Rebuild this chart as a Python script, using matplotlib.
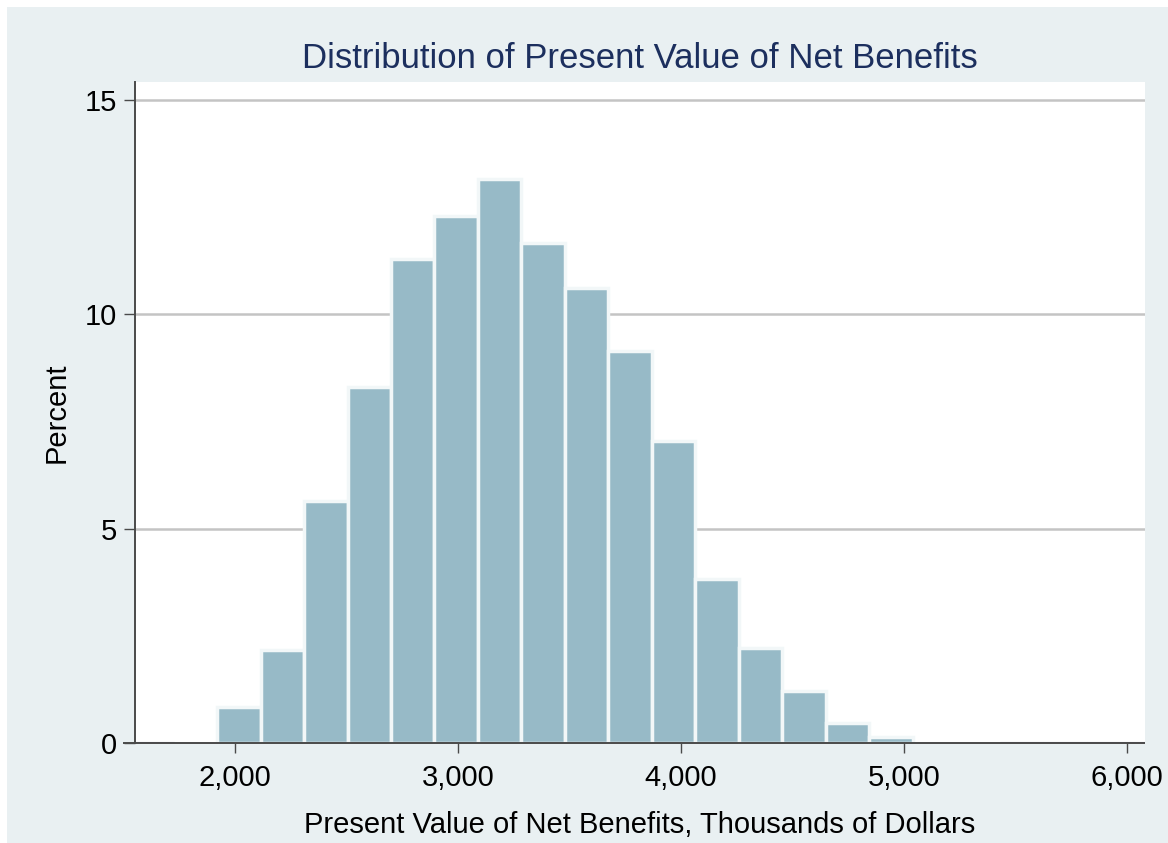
import numpy as np
import matplotlib
matplotlib.use("Agg")
import matplotlib.pyplot as plt
from matplotlib.patches import Rectangle
from matplotlib.ticker import FuncFormatter

# Histogram bins (thousands of dollars) and percent per bin
bin_edges = [1530, 1725, 1920, 2115, 2310, 2505, 2700, 2895, 3090, 3285, 3480,
             3675, 3870, 4065, 4260, 4455, 4650, 4845, 5040, 5235, 5430, 5625,
             5820, 6015, 6210]
percent = [0.02, 0.0, 0.83, 2.17, 5.65, 8.31, 11.28, 12.30, 13.15, 11.66, 10.62,
           9.15, 7.05, 3.83, 2.21, 1.21, 0.46, 0.15, 0.0, 0.0, 0.02, 0.02,
           0.02, 0.02]

x_ticks = [2000, 3000, 4000, 5000, 6000]
y_ticks = [0, 5, 10, 15]

title = "Distribution of Present Value of Net Benefits"
x_label = "Present Value of Net Benefits, Thousands of Dollars"
y_label = "Percent"

# Farben (Stata s2color-Look)
BG = "#E9F0F2"
BAR = "#97BAC7"
BAR_EDGE = "#F2F7F8"
TINY_EDGE = "#AEB6B9"
AXIS = "#4A4A4A"
GRID = "#C4C4C4"
TITLE = "#1C2F5E"

plt.rcParams["font.family"] = ["Liberation Sans", "DejaVu Sans"]

W, H = 1168, 843
fig = plt.figure(figsize=(W / 100, H / 100), dpi=100, facecolor="white")

# hellblauer Grafikbereich mit weissem Rand oben/links
fig.patches.append(Rectangle((7 / W, -0.01), 1.01 - 7 / W, 1.01 - 7 / H,
                             transform=fig.transFigure, facecolor=BG,
                             edgecolor="none", zorder=-10))

left, right, top, bottom = 135, 1145, 82, 743
ax = fig.add_axes([left / W, 1 - bottom / H, (right - left) / W, (bottom - top) / H])
ax.set_zorder(1)
ax.set_facecolor("white")

edges = np.array(bin_edges, dtype=float)
pct = np.array(percent)
widths = np.diff(edges)
tiny = pct < 0.05
ax.bar(edges[:-1], pct, width=widths, align="edge", color=BAR,
       edgecolor=[TINY_EDGE if t else BAR_EDGE for t in tiny],
       linewidth=[0.8 if t else 2.5 for t in tiny], zorder=2)

ax.set_xlim(1552, 6081)
ax.set_ylim(0, 15.42)

ax.set_yticks(y_ticks)
ax.set_xticks(x_ticks)
ax.xaxis.set_major_formatter(FuncFormatter(lambda v, p: f"{int(v):,}"))

# Gitterlinien
for yv in y_ticks[1:]:
    ax.axhline(yv, color=GRID, linewidth=1.8, zorder=1)

for side in ["top", "right"]:
    ax.spines[side].set_visible(False)
ax.spines["left"].set_color(AXIS)
ax.spines["left"].set_linewidth(1.4)
ax.spines["bottom"].set_visible(False)
# x-Achse ragt links etwas über die y-Achse hinaus
ax.plot([-12 / (right - left), 1], [0, 0], transform=ax.transAxes, color=AXIS,
        linewidth=1.4, clip_on=False, zorder=5, solid_capstyle="butt")

ax.tick_params(axis="y", direction="out", length=8, width=1.0, color=AXIS,
               labelsize=21, pad=5, labelcolor="black")
ax.tick_params(axis="x", direction="out", length=7, width=1.0, color=AXIS,
               labelsize=21, pad=8, labelcolor="black")

ax.set_xlabel(x_label, fontsize=21, labelpad=14)
ax.set_ylabel(y_label, fontsize=21, labelpad=10)
ax.set_title(title, fontsize=25, color=TITLE, pad=10)

fig.savefig("out.png", dpi=100, facecolor="white")
